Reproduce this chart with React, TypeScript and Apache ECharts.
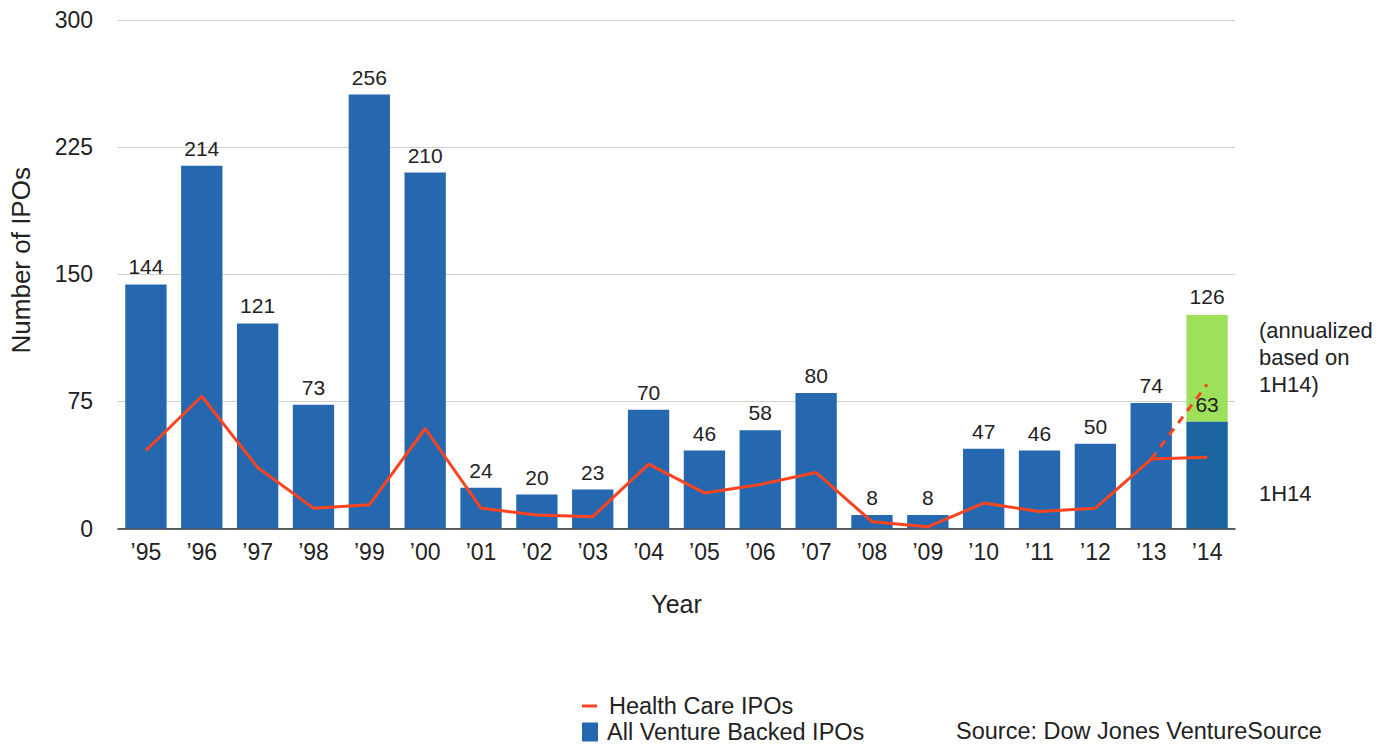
import React, { useEffect, useRef } from "react";
import * as echarts from "echarts";

const years = ["’95", "’96", "’97", "’98", "’99", "’00", "’01", "’02", "’03", "’04", "’05", "’06", "’07", "’08", "’09", "’10", "’11", "’12", "’13", "’14"];
const allVentureIPOs = [144, 214, 121, 73, 256, 210, 24, 20, 23, 70, 46, 58, 80, 8, 8, 47, 46, 50, 74, 63];
const healthCareIPOs = [46, 78, 36, 12, 14, 59, 12, 8, 7, 38, 21, 26, 33, 4, 1, 15, 10, 12, 41, 42];
// 2014 full-year estimates, annualized from the first half
const annualizedAll = 126;
const annualizedHealthCare = 85;
const yTicks = [0, 75, 150, 225, 300];

const FONT = "'Liberation Sans', Arial, Helvetica, sans-serif";
const BLUE = "#2668b0";
const BLUE_1H = "#1c64a0";
const GREEN = "#9de05a";
const RED = "#fa4420";
const TEXT = "#222";

export default function App() {
  const ref = useRef<HTMLDivElement>(null);

  useEffect(() => {
    document.body.style.margin = "0";
    const chart = echarts.init(ref.current!, null, { renderer: "svg" });
    const last = years.length - 1;

    const barData = allVentureIPOs.map((v, i) =>
      i === last ? { value: v, itemStyle: { color: BLUE_1H } } : v
    );
    const annualizedExtra = years.map((_, i) =>
      i === last ? annualizedAll - allVentureIPOs[last] : null
    );
    const dashedTrend = years.map((_, i) =>
      i === last - 1 ? healthCareIPOs[last - 1] : i === last ? annualizedHealthCare : null
    );

    chart.setOption({
      animation: false,
      textStyle: { fontFamily: FONT },
      grid: { left: 118, right: 154, top: 20, bottom: 217.5 },
      xAxis: {
        type: "category",
        data: years,
        name: "Year",
        nameLocation: "middle",
        nameGap: 63,
        nameTextStyle: { fontSize: 25, color: TEXT, fontFamily: FONT },
        axisLine: { lineStyle: { color: "#333", width: 1.5 } },
        axisTick: { show: false },
        axisLabel: { fontSize: 23, color: TEXT, margin: 12, fontFamily: FONT },
      },
      yAxis: {
        type: "value",
        min: yTicks[0],
        max: yTicks[yTicks.length - 1],
        interval: 75,
        name: "Number of IPOs",
        nameLocation: "middle",
        nameGap: 84,
        nameTextStyle: { fontSize: 26, color: TEXT, fontFamily: FONT, padding: [0, 0, 0, 28] },
        axisLine: { show: false },
        axisTick: { show: false },
        axisLabel: { fontSize: 23, color: TEXT, margin: 25, fontFamily: FONT },
        splitLine: { lineStyle: { color: "#cfcfcf", width: 1.2 } },
      },
      legend: [
        {
          data: [{ name: "Health Care IPOs", icon: "rect" }],
          orient: "vertical",
          left: 577,
          top: 689,
          itemWidth: 15,
          itemHeight: 3,
          itemGap: 0,
          selectedMode: false,
          textStyle: { fontSize: 23.5, color: TEXT, fontFamily: FONT, padding: [0, 0, 0, 7] },
        },
        {
          data: [{ name: "All Venture Backed IPOs", icon: "rect" }],
          orient: "vertical",
          left: 577,
          top: 715,
          itemWidth: 16,
          itemHeight: 19,
          selectedMode: false,
          textStyle: { fontSize: 23.5, color: TEXT, fontFamily: FONT, padding: [0, 0, 0, 4] },
        },
      ],
      series: [
        {
          name: "All Venture Backed IPOs",
          type: "bar",
          stack: "ipo",
          data: barData,
          barCategoryGap: "26%",
          itemStyle: { color: BLUE },
          label: {
            show: true,
            position: "top",
            distance: 7,
            fontSize: 21,
            color: TEXT,
            fontFamily: FONT,
          },
          z: 2,
        },
        {
          name: "Annualized 2014",
          type: "bar",
          stack: "ipo",
          data: annualizedExtra,
          itemStyle: { color: GREEN },
          label: {
            show: true,
            position: "top",
            distance: 8,
            fontSize: 21,
            color: TEXT,
            fontFamily: FONT,
            formatter: () => String(annualizedAll),
          },
          z: 1,
        },
        {
          name: "Health Care IPOs",
          type: "line",
          data: healthCareIPOs,
          showSymbol: false,
          symbol: "none",
          itemStyle: { color: RED },
          lineStyle: { color: RED, width: 3 },
          z: 5,
        },
        {
          name: "Health Care annualized",
          type: "line",
          data: dashedTrend,
          showSymbol: false,
          symbol: "none",
          lineStyle: { color: RED, width: 3, type: [8, 7] },
          z: 5,
        },
      ],
      graphic: [
        {
          type: "text",
          left: 1259,
          top: 317,
          style: {
            text: "(annualized\nbased on\n1H14)",
            font: `22px ${FONT}`,
            lineHeight: 27,
            fill: TEXT,
          },
        },
        {
          type: "text",
          left: 1259,
          top: 482,
          style: { text: "1H14", font: `22px ${FONT}`, fill: TEXT },
        },
        {
          type: "text",
          left: 956,
          top: 719,
          style: { text: "Source: Dow Jones VentureSource", font: `23.5px ${FONT}`, fill: TEXT },
        },
      ],
    });

    return () => chart.dispose();
  }, []);

  return <div ref={ref} style={{ width: 1389, height: 746 }} />;
}
